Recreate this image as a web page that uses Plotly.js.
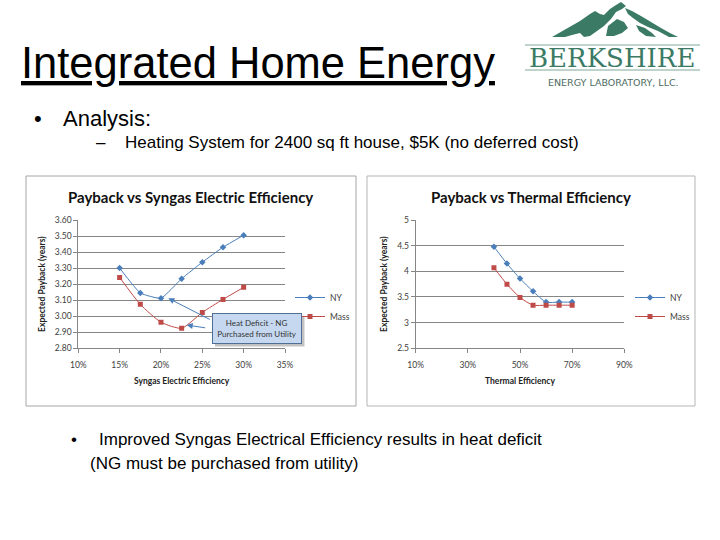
<!DOCTYPE html>
<html>
<head>
<meta charset="utf-8">
<script src="https://cdn.plot.ly/plotly-3.0.1.min.js"></script>
<style>html,body{margin:0;padding:0;background:#fff;}#chart{width:720px;height:540px;}</style>
</head>
<body>
<div id="chart"></div>
<script>
// ---- Data ----
const elecEff = [0.15, 0.175, 0.20, 0.225, 0.25, 0.275, 0.30];
const elecNY = [3.30, 3.145, 3.112, 3.234, 3.337, 3.43, 3.505];
const elecMass = [3.242, 3.074, 2.963, 2.925, 3.024, 3.105, 3.18];

const thermEff = [0.40, 0.45, 0.50, 0.55, 0.60, 0.65, 0.70];
const thermNY = [4.48, 4.15, 3.86, 3.61, 3.40, 3.40, 3.40];
const thermMass = [4.07, 3.75, 3.49, 3.34, 3.34, 3.34, 3.34];

const seriesNames = ["NY", "Mass"];
const chartTitles = ["Payback vs Syngas Electric Efficiency", "Payback vs Thermal Efficiency"];
const xTitles = ["Syngas Electric Efficiency", "Thermal Efficiency"];
const yTitle = "Expected Payback (years)";

// ---- Helpers (pixel -> paper) ----
const W = 720, H = 540;
const px = x => x / W;
const py = y => 1 - y / H;

const NYc = '#4a7ebb', MASSc = '#be4b48';
const tickFont = {family: 'Lato, Arial, sans-serif', size: 8.5, color: '#404040'};
const axTitleFont = {family: 'Lato, Arial, sans-serif', size: 8.5, color: '#222', weight: 'bold'};

const traces = [
  {x: elecEff, y: elecNY, name: seriesNames[0], type: 'scatter', mode: 'lines+markers',
   line: {color: NYc, width: 1, shape: 'spline', smoothing: 0.4},
   marker: {symbol: 'diamond', size: 5, color: NYc}, xaxis: 'x', yaxis: 'y', legend: 'legend'},
  {x: elecEff, y: elecMass, name: seriesNames[1], type: 'scatter', mode: 'lines+markers',
   line: {color: MASSc, width: 1, shape: 'spline', smoothing: 0.6},
   marker: {symbol: 'square', size: 5, color: MASSc}, xaxis: 'x', yaxis: 'y', legend: 'legend'},
  {x: thermEff, y: thermNY, name: seriesNames[0], type: 'scatter', mode: 'lines+markers',
   line: {color: NYc, width: 1, shape: 'spline', smoothing: 0.6},
   marker: {symbol: 'diamond', size: 5, color: NYc}, xaxis: 'x2', yaxis: 'y2', legend: 'legend2'},
  {x: thermEff, y: thermMass, name: seriesNames[1], type: 'scatter', mode: 'lines+markers',
   line: {color: MASSc, width: 1, shape: 'spline', smoothing: 0.6},
   marker: {symbol: 'square', size: 5, color: MASSc}, xaxis: 'x2', yaxis: 'y2', legend: 'legend2'}
];

function xAxis(domain, range, dtick, title, anchor) {
  return {domain: domain, range: range, dtick: dtick, tick0: 0.1, tickformat: '.0%',
    showgrid: false, zeroline: false, showline: true, linecolor: '#868686', linewidth: 1,
    ticks: 'outside', ticklen: 4, tickcolor: '#868686', tickfont: tickFont, ticklabelstandoff: 4,
    title: {text: title, font: axTitleFont, standoff: 9}, anchor: anchor, fixedrange: true};
}
function yAxis(domain, range, dtick, fmt, anchor, standoff) {
  return {domain: domain, range: range, dtick: dtick, tickformat: fmt,
    showgrid: true, gridcolor: '#868686', gridwidth: 1, zeroline: false, showline: true,
    linecolor: '#868686', linewidth: 1, ticks: 'outside', ticklen: 4, tickcolor: '#868686',
    tickfont: tickFont, title: {text: yTitle, font: axTitleFont, standoff: standoff},
    anchor: anchor, fixedrange: true};
}

const yDom = [py(348.3), py(220)];

// Mountain logo paths (pixel coords converted to paper)
function path(pts) {
  return 'M' + pts.map(p => px(p[0]).toFixed(5) + ',' + py(p[1]).toFixed(5)).join(' L') + ' Z';
}
const green = '#3b7b66';
const mountains = [
  [[552,37],[566,29],[580,21],[590,14],[595,11],[600,14],[604,15],[610,9],[616,5],[621,2],[626,6],[622,9],[616,12],[611,19],[604,26],[597,31],[590,36],[584,37],[580,33],[572,35],[565,37]],
  [[625,8],[632,11],[641,16],[651,22],[661,28],[670,33],[678,37],[669,37],[658,31],[648,27],[640,23],[633,18],[628,14]],
  [[608,26],[617,19],[624,22],[628,28],[622,33],[614,36],[606,36]],
  [[636,25],[645,28],[652,33],[656,37],[646,36],[639,31]]
];

const shapes = [
  {type: 'rect', xref: 'paper', yref: 'paper', x0: px(26), x1: px(356), y0: py(406), y1: py(176),
   line: {color: '#a6a6a6', width: 1}, fillcolor: 'rgba(0,0,0,0)', layer: 'below'},
  {type: 'rect', xref: 'paper', yref: 'paper', x0: px(367), x1: px(695), y0: py(406), y1: py(176),
   line: {color: '#b5b5b5', width: 1}, fillcolor: 'rgba(0,0,0,0)', layer: 'below'},
  // callout shadow
  {type: 'rect', xref: 'paper', yref: 'paper', x0: px(215), x1: px(304.5), y0: py(346.5), y1: py(316),
   line: {width: 0}, fillcolor: 'rgba(120,120,120,0.45)', layer: 'above'},
  // logo rules
  {type: 'line', xref: 'paper', yref: 'paper', x0: px(525), x1: px(700), y0: py(45), y1: py(45),
   line: {color: '#7fa899', width: 1}},
  {type: 'line', xref: 'paper', yref: 'paper', x0: px(525), x1: px(700), y0: py(70), y1: py(70),
   line: {color: '#7fa899', width: 1}}
];
mountains.forEach(m => shapes.push({type: 'path', xref: 'paper', yref: 'paper', path: path(m),
  fillcolor: green, line: {width: 0}}));

function txt(text, x, y, size, opts) {
  return Object.assign({text: text, xref: 'paper', yref: 'paper', x: px(x), y: py(y),
    xanchor: 'left', yanchor: 'middle', showarrow: false, borderpad: 0,
    font: {family: 'Liberation Sans, Arial, sans-serif', size: size, color: '#000'}}, opts || {});
}

const annotations = [
  txt('<u>Integrated Home Energy</u>', 20, 63.5, 43.5),
  txt('•', 33, 118, 22),
  txt('Analysis:', 62, 118, 22),
  txt('–', 95, 142.5, 17),
  txt('Heating System for 2400 sq ft house, $5K (no deferred cost)', 124, 142.5, 17),
  txt('•', 70, 439, 17),
  txt('Improved Syngas Electrical Efficiency results in heat deficit', 98, 439, 17),
  txt('(NG must be purchased from utility)', 89, 463.5, 17),
  // logo text
  txt('BERKSHIRE', 612, 58, 26, {xanchor: 'center',
    font: {family: 'DejaVu Serif, Liberation Serif, serif', size: 26, color: green}}),
  txt('ENERGY LABORATORY, LLC.', 613, 82, 9.5, {xanchor: 'center',
    font: {family: 'DejaVu Sans, Arial, sans-serif', size: 9.5, color: '#4d6b61'}}),
  // chart titles
  txt(chartTitles[0], 190, 196.5, 15, {xanchor: 'center',
    font: {family: 'Lato, Arial, sans-serif', size: 15, color: '#111', weight: 'bold'}}),
  txt(chartTitles[1], 530.5, 196.5, 15, {xanchor: 'center',
    font: {family: 'Lato, Arial, sans-serif', size: 15, color: '#111', weight: 'bold'}}),
  // callout
  {text: 'Heat Deficit - NG<br>Purchased from Utility', xref: 'paper', yref: 'paper',
   x: px(257.2), y: py(328.3), xanchor: 'center', yanchor: 'middle', showarrow: false,
   width: 86, height: 27, bgcolor: '#c5d8ef', bordercolor: '#4f6f96', borderwidth: 1, borderpad: 1,
   font: {family: 'Lato, Arial, sans-serif', size: 8, color: '#333'}},
  // callout arrows
  {text: '', xref: 'x', yref: 'y', x: 0.2089, y: 3.112, ax: 43, ay: 22, showarrow: true,
   arrowhead: 2, arrowsize: 1.2, arrowwidth: 1, arrowcolor: '#4a7ebb'},
  {text: '', xref: 'x', yref: 'y', x: 0.2311, y: 2.945, ax: 20, ay: 3, showarrow: true,
   arrowhead: 2, arrowsize: 1.2, arrowwidth: 1, arrowcolor: '#4a7ebb'}
];

const legendFont = {family: 'Lato, Arial, sans-serif', size: 8.5, color: '#404040'};
const layout = {
  width: W, height: H, margin: {l: 0, r: 0, t: 0, b: 0},
  paper_bgcolor: '#fff', plot_bgcolor: 'rgba(0,0,0,0)', showlegend: true,
  xaxis: xAxis([px(78.3), px(285)], [0.10, 0.35], 0.05, xTitles[0], 'y'),
  yaxis: yAxis(yDom, [2.8, 3.6], 0.1, '.2f', 'x', 7),
  xaxis2: xAxis([px(415.7), px(624.3)], [0.10, 0.90], 0.2, xTitles[1], 'y2'),
  yaxis2: yAxis(yDom, [2.5, 5], 0.5, '', 'x2', 8),
  legend: {x: px(290), y: py(307), xanchor: 'left', yanchor: 'middle', font: legendFont,
    bgcolor: 'rgba(0,0,0,0)'},
  legend2: {x: px(630), y: py(307), xanchor: 'left', yanchor: 'middle', font: legendFont,
    bgcolor: 'rgba(0,0,0,0)'},
  shapes: shapes, annotations: annotations
};

Plotly.newPlot('chart', traces, layout, {displayModeBar: false, staticPlot: true});
</script>
</body>
</html>
